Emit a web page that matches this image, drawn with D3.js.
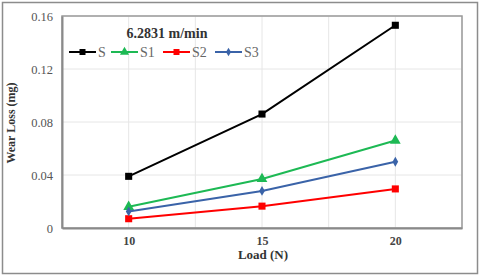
<!DOCTYPE html>
<html>
<head>
<meta charset="utf-8">
<script src="https://cdn.jsdelivr.net/npm/d3@7"></script>
<style>
body{margin:0;background:#fff;}
svg{display:block;font-family:"Liberation Serif","Times New Roman",serif;}
</style>
</head>
<body>
<svg id="chart"></svg>
<script>
var loads=[10,15,20];
var S=[0.039,0.086,0.153];
var S1=[0.016,0.037,0.066];
var S2=[0.007,0.0165,0.0295];
var S3=[0.0125,0.028,0.050];
var yTicks=[0,0.04,0.08,0.12,0.16];
var seriesNames=["S","S1","S2","S3"];
var seriesColors=["#000000","#1db954","#ff0000","#3a63a8"];
var seriesShapes=[d3.symbolSquare,d3.symbolTriangle,d3.symbolSquare,d3.symbolDiamond];
var seriesVals=[S,S1,S2,S3];

var w=480,h=276;
var margin={left:62,right:18,top:16,bottom:48};

var svg=d3.select("#chart").attr("width",w).attr("height",h);

// outer frame
svg.append("rect")
   .attr("x",2.5).attr("y",2.5)
   .attr("width",w-5).attr("height",h-5)
   .attr("fill","#fff").attr("stroke","#8c8c8c").attr("stroke-width",1.5);

var xScale=d3.scaleLinear()
             .domain([7.5,22.5])
             .range([margin.left,w-margin.right]);
var yScale=d3.scaleLinear()
             .domain([0,0.16])
             .range([h-margin.bottom,margin.top]);

// grid
svg.append("g").selectAll("line")
   .data(d3.range(7.5,22.51,2.5))
   .enter().append("line")
   .attr("x1",function(d){return xScale(d);})
   .attr("x2",function(d){return xScale(d);})
   .attr("y1",yScale(0)).attr("y2",yScale(0.16))
   .attr("stroke","#e6e6e6").attr("stroke-width",1);
svg.append("g").selectAll("line")
   .data(yTicks)
   .enter().append("line")
   .attr("x1",xScale(7.5)).attr("x2",xScale(22.5))
   .attr("y1",function(d){return yScale(d);})
   .attr("y2",function(d){return yScale(d);})
   .attr("stroke","#e6e6e6").attr("stroke-width",1);

// plot frame
svg.append("rect")
   .attr("x",xScale(7.5)).attr("y",yScale(0.16))
   .attr("width",xScale(22.5)-xScale(7.5)).attr("height",yScale(0)-yScale(0.16))
   .attr("fill","none").attr("stroke","#9a9a9a").attr("stroke-width",1.5);

var xAxis=d3.axisBottom(xScale).tickValues(loads).tickSize(0).tickPadding(8);
var yAxis=d3.axisLeft(yScale).tickValues(yTicks).tickSize(0).tickPadding(9)
            .tickFormat(function(d){return d===0?"0":d3.format(".2f")(d);});

var gx=svg.append("g")
   .attr("transform","translate(0,"+yScale(0)+")")
   .call(xAxis);
var gy=svg.append("g")
   .attr("transform","translate("+xScale(7.5)+",0)")
   .call(yAxis);
[gx,gy].forEach(function(g){
  g.select(".domain").attr("stroke","#8a8a8a").attr("stroke-width",2);
  g.selectAll("text").attr("fill","#555").style("font-size","12.5px")
   .style("font-family","'Liberation Serif',serif");
});
gx.selectAll("text").style("font-weight","bold").style("font-size","12px").attr("fill","#444");

// series
var line=d3.line()
           .x(function(d,i){return xScale(loads[i]);})
           .y(function(d){return yScale(d);});
seriesVals.forEach(function(vals,k){
  svg.append("path")
     .datum(vals)
     .attr("d",line)
     .attr("fill","none")
     .attr("stroke",seriesColors[k])
     .attr("stroke-width",2);
  svg.append("g").selectAll("path")
     .data(vals)
     .enter().append("path")
     .attr("transform",function(d,i){return "translate("+xScale(loads[i])+","+yScale(d)+")";})
     .attr("d",d3.symbol().type(seriesShapes[k]).size(k===3?28:50))
     .attr("fill",seriesColors[k]);
});

// title and legend
svg.append("text")
   .attr("x",167).attr("y",38)
   .attr("text-anchor","middle")
   .style("font-size","14px").style("font-weight","bold")
   .attr("fill","#333")
   .text("6.2831 m/min");

var legX=[69,111,163,215];
seriesNames.forEach(function(n,k){
  var g=svg.append("g").attr("transform","translate("+legX[k]+",52)");
  g.append("line").attr("x1",0).attr("x2",27).attr("y1",0).attr("y2",0)
   .attr("stroke",seriesColors[k]).attr("stroke-width",2);
  g.append("path").attr("transform","translate(13.5,0)")
   .attr("d",d3.symbol().type(seriesShapes[k]).size(k===3?22:36))
   .attr("fill",seriesColors[k]);
  g.append("text").attr("x",29).attr("y",5)
   .style("font-size","14px").attr("fill","#666")
   .text(n);
});

// axis titles
svg.append("text")
   .attr("transform","translate(15,"+((yScale(0)+yScale(0.16))/2+1)+") rotate(-90)")
   .attr("text-anchor","middle")
   .style("font-size","12px").style("font-weight","bold")
   .attr("fill","#333")
   .text("Wear Loss (mg)");
svg.append("text")
   .attr("x",(xScale(7.5)+xScale(22.5))/2+1).attr("y",259)
   .attr("text-anchor","middle")
   .style("font-size","13px").style("font-weight","bold")
   .attr("fill","#333")
   .text("Load (N)");
</script>
</body>
</html>
